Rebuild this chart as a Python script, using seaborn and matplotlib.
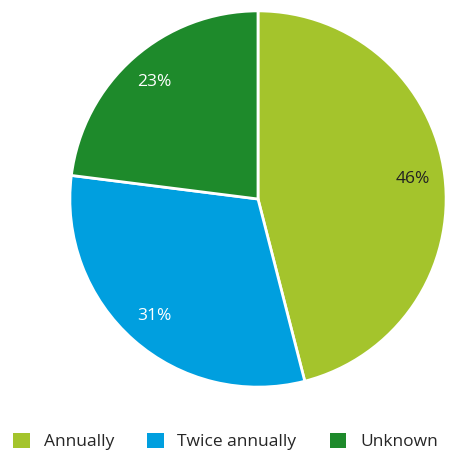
import matplotlib
matplotlib.use("Agg")
import matplotlib.pyplot as plt
import seaborn as sns

sns.set_theme(style="white")
plt.rcParams["font.family"] = ["Open Sans", "DejaVu Sans"]

# Data
categories = ["Annually", "Twice annually", "Unknown"]
shares = [46, 31, 23]
colors = ["#a4c42c", "#009fdf", "#1e8a2b"]
label_colors = ["#222222", "white", "white"]

fig = plt.figure(figsize=(4.51, 4.5), dpi=100)
ax = fig.add_axes([68 / 451, 61 / 450, 380 / 451, 380 / 450])

wedges, texts, autotexts = ax.pie(
    shares,
    colors=colors,
    startangle=90,
    counterclock=False,
    autopct="%d%%",
    pctdistance=0.83,
    wedgeprops={"edgecolor": "white", "linewidth": 2},
    textprops={"fontsize": 12.5},
)
for t, c in zip(autotexts, label_colors):
    t.set_color(c)
ax.set_xlim(-1.01, 1.01)
ax.set_ylim(-1.01, 1.01)

leg = fig.legend(
    wedges, categories,
    loc="lower center", bbox_to_anchor=(0.5, -0.035),
    ncol=3, frameon=False, fontsize=12.5,
    handlelength=0.95, handleheight=0.95, handletextpad=0.8,
    columnspacing=1.9,
)
for h in leg.legend_handles:
    h.set_edgecolor("none")

fig.savefig("out.png", dpi=100)
